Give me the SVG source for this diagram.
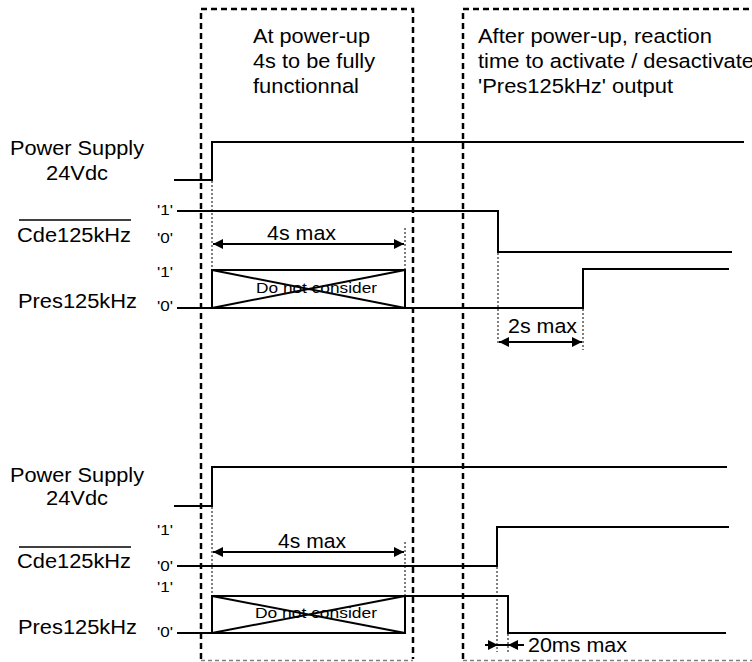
<svg xmlns="http://www.w3.org/2000/svg" width="752" height="662" viewBox="0 0 752 662">
<style>
text{font-family:"Liberation Sans",Arial,sans-serif;fill:#000}
.big{font-size:20.5px}
.lvl{font-size:15px}
.dnc{font-size:15.5px}
.sig{fill:none;stroke:#000;stroke-width:2}
.box{fill:none;stroke:#000;stroke-width:2.5;stroke-dasharray:6,4}
.boxb{fill:none;stroke:#000;stroke-width:1.5;stroke-dasharray:4,3;opacity:.5}
.dot{fill:none;stroke:#000;stroke-width:1;stroke-dasharray:2,2}
.dim{fill:none;stroke:#000;stroke-width:2}
.ov{stroke:#000;stroke-width:1.5}
</style>
<defs>
<marker id="ah" viewBox="0 0 10 10" refX="10" refY="5" markerWidth="12" markerHeight="10" markerUnits="userSpaceOnUse" orient="auto-start-reverse">
<path d="M0,0 L10,5 L0,10 z" fill="#000"/>
</marker>
</defs>
<rect width="752" height="662" fill="#fff"/>

<g id="zone-powerup">
<path class="box" d="M201,659 V9 H413 V659"/>
<path class="boxb" d="M201,660.5 H413"/>
<text class="big" x="253" y="43" textLength="117" lengthAdjust="spacingAndGlyphs">At power-up</text>
<text class="big" x="253" y="68" textLength="122" lengthAdjust="spacingAndGlyphs">4s to be fully</text>
<text class="big" x="253" y="93" textLength="106" lengthAdjust="spacingAndGlyphs">functionnal</text>
</g>

<g id="zone-reaction">
<path class="box" d="M463,659 V9 H760"/>
<path class="boxb" d="M463,660.5 H752"/>
<text class="big" x="478" y="43" textLength="234" lengthAdjust="spacingAndGlyphs">After power-up, reaction</text>
<text class="big" x="478" y="68" textLength="276" lengthAdjust="spacingAndGlyphs">time to activate / desactivate</text>
<text class="big" x="478" y="93" textLength="195" lengthAdjust="spacingAndGlyphs">'Pres125kHz' output</text>
</g>

<!-- Top timing diagram -->
<g id="top-power">
<text class="big" x="10" y="155" textLength="134" lengthAdjust="spacingAndGlyphs">Power Supply</text>
<text class="big" x="46" y="180" textLength="62" lengthAdjust="spacingAndGlyphs">24Vdc</text>
<path class="sig" d="M174,180 H212 V142 H744"/>
</g>

<g id="top-cde">
<text class="big" x="17" y="242" textLength="114" lengthAdjust="spacingAndGlyphs">Cde125kHz</text>
<line class="ov" x1="19" y1="220" x2="131" y2="220"/>
<text class="lvl" x="157" y="215" textLength="16" lengthAdjust="spacingAndGlyphs">'1'</text>
<text class="lvl" x="157" y="243" textLength="16" lengthAdjust="spacingAndGlyphs">'0'</text>
<path class="sig" d="M177,211 H498 V252 H732"/>
</g>

<g id="top-pres">
<text class="big" x="18" y="308" textLength="119" lengthAdjust="spacingAndGlyphs">Pres125kHz</text>
<text class="lvl" x="157" y="277" textLength="16" lengthAdjust="spacingAndGlyphs">'1'</text>
<text class="lvl" x="157" y="311" textLength="16" lengthAdjust="spacingAndGlyphs">'0'</text>
<path class="sig" d="M177,308 H583 V269 H729"/>
</g>

<g id="top-dnc">
<rect class="sig" x="212" y="270" width="193" height="38"/>
<path class="sig" d="M212,270 L405,308 M212,308 L405,270"/>
<text class="dnc" x="256" y="293" textLength="121" lengthAdjust="spacingAndGlyphs">Do not consider</text>
</g>

<!-- Bottom timing diagram -->
<g id="bot-power">
<text class="big" x="10" y="482" textLength="134" lengthAdjust="spacingAndGlyphs">Power Supply</text>
<text class="big" x="46" y="505" textLength="62" lengthAdjust="spacingAndGlyphs">24Vdc</text>
<path class="sig" d="M174,506 H212 V467 H727"/>
</g>

<g id="bot-cde">
<text class="big" x="17" y="568" textLength="114" lengthAdjust="spacingAndGlyphs">Cde125kHz</text>
<line class="ov" x1="19" y1="547" x2="131" y2="547"/>
<text class="lvl" x="157" y="535" textLength="16" lengthAdjust="spacingAndGlyphs">'1'</text>
<text class="lvl" x="157" y="571" textLength="16" lengthAdjust="spacingAndGlyphs">'0'</text>
<path class="sig" d="M177,566 H497 V527 H729"/>
</g>

<g id="bot-pres">
<text class="big" x="18" y="634" textLength="119" lengthAdjust="spacingAndGlyphs">Pres125kHz</text>
<text class="lvl" x="157" y="592" textLength="16" lengthAdjust="spacingAndGlyphs">'1'</text>
<text class="lvl" x="157" y="637" textLength="16" lengthAdjust="spacingAndGlyphs">'0'</text>
<path class="sig" d="M177,633 H212 M405,596 H508 V633 H726"/>
</g>

<g id="bot-dnc">
<rect class="sig" x="212" y="596" width="193" height="37"/>
<path class="sig" d="M212,596 L405,633 M212,633 L405,596"/>
<text class="dnc" x="255" y="618" textLength="122" lengthAdjust="spacingAndGlyphs">Do not consider</text>
</g>

<g id="connectors">
<!-- top -->
<path class="dot" d="M212,181 V269 M405,228 V270 M498,253 V344 M583,309 V350"/>
<line class="dim" x1="213" y1="244" x2="404" y2="244" marker-start="url(#ah)" marker-end="url(#ah)"/>
<text class="big" x="267" y="240" textLength="69" lengthAdjust="spacingAndGlyphs">4s max</text>
<line class="dim" x1="499" y1="342" x2="582" y2="342" marker-start="url(#ah)" marker-end="url(#ah)"/>
<text class="big" x="508" y="333" textLength="69" lengthAdjust="spacingAndGlyphs">2s max</text>
<!-- bottom -->
<path class="dot" d="M212,507 V596 M405,542 V596 M497,567 V652 M508,634 V652"/>
<line class="dim" x1="213" y1="552" x2="404" y2="552" marker-start="url(#ah)" marker-end="url(#ah)"/>
<text class="big" x="278" y="548" textLength="68" lengthAdjust="spacingAndGlyphs">4s max</text>
<line class="dim" x1="485" y1="645" x2="498" y2="645" marker-end="url(#ah)"/>
<line class="dim" x1="498" y1="645" x2="508" y2="645" stroke-width="1"/>
<line class="dim" x1="524" y1="645" x2="508" y2="645" marker-end="url(#ah)"/>
<text class="big" x="528" y="652" textLength="99" lengthAdjust="spacingAndGlyphs">20ms max</text>
</g>
</svg>
